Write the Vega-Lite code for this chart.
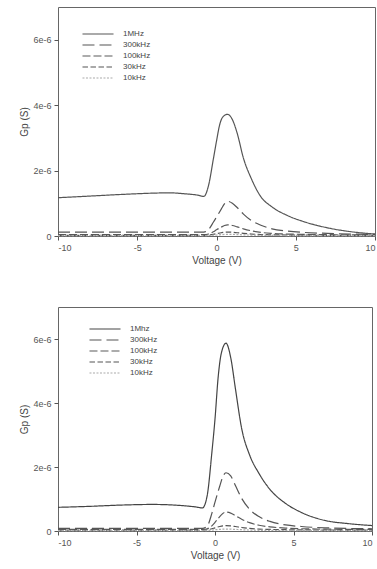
{
 "$schema": "https://vega.github.io/schema/vega-lite/v6.json",
 "background": "white",
 "padding": {"left": 19, "top": 6, "right": 0, "bottom": 0},
 "spacing": 40,
 "config": {
  "font": "Liberation Sans",
  "view": {"stroke": "#666", "strokeWidth": 1},
  "axis": {"grid": false, "domain": false, "tickColor": "#555", "tickSize": 4, "labelFontSize": 9, "labelColor": "#555", "titleFontSize": 10, "titleFontWeight": "normal", "titleColor": "#444", "labelPadding": 3, "titlePadding": 3},
  "legend": {"orient": "none", "title": null, "symbolType": "M-3,0H3", "symbolSize": 107, "symbolStrokeWidth": 1.2, "labelFontSize": 8, "labelColor": "#444444", "rowPadding": 1, "labelOffset": 19}
 },
 "resolve": {"scale": {"color": "independent", "strokeDash": "independent"}, "legend": {"color": "independent", "strokeDash": "independent"}},
 "datasets": {
  "d": [
   {"p":"a","s":"1MHz","v":-10,"g":1.17},{"p":"a","s":"1MHz","v":-8,"g":1.22},{"p":"a","s":"1MHz","v":-6,"g":1.27},{"p":"a","s":"1MHz","v":-4,"g":1.31},{"p":"a","s":"1MHz","v":-3,"g":1.32},{"p":"a","s":"1MHz","v":-2,"g":1.29},{"p":"a","s":"1MHz","v":-1.2,"g":1.25},{"p":"a","s":"1MHz","v":-0.8,"g":1.21},{"p":"a","s":"1MHz","v":-0.5,"g":1.55},{"p":"a","s":"1MHz","v":-0.2,"g":2.35},{"p":"a","s":"1MHz","v":0,"g":2.9},{"p":"a","s":"1MHz","v":0.2,"g":3.4},{"p":"a","s":"1MHz","v":0.4,"g":3.64},{"p":"a","s":"1MHz","v":0.7,"g":3.72},{"p":"a","s":"1MHz","v":1.0,"g":3.56},{"p":"a","s":"1MHz","v":1.3,"g":3.15},{"p":"a","s":"1MHz","v":1.7,"g":2.38},{"p":"a","s":"1MHz","v":2.2,"g":1.75},{"p":"a","s":"1MHz","v":2.8,"g":1.2},{"p":"a","s":"1MHz","v":3.5,"g":0.89},{"p":"a","s":"1MHz","v":4.5,"g":0.62},{"p":"a","s":"1MHz","v":5.5,"g":0.44},{"p":"a","s":"1MHz","v":7,"g":0.25},{"p":"a","s":"1MHz","v":8.5,"g":0.13},{"p":"a","s":"1MHz","v":10,"g":0.06},
   {"p":"a","s":"300kHz","v":-10,"g":0.12},{"p":"a","s":"300kHz","v":-5,"g":0.12},{"p":"a","s":"300kHz","v":-0.8,"g":0.12},{"p":"a","s":"300kHz","v":-0.5,"g":0.2},{"p":"a","s":"300kHz","v":-0.2,"g":0.42},{"p":"a","s":"300kHz","v":0,"g":0.58},{"p":"a","s":"300kHz","v":0.3,"g":0.82},{"p":"a","s":"300kHz","v":0.5,"g":0.98},{"p":"a","s":"300kHz","v":0.7,"g":1.06},{"p":"a","s":"300kHz","v":1.0,"g":1.0},{"p":"a","s":"300kHz","v":1.3,"g":0.87},{"p":"a","s":"300kHz","v":1.7,"g":0.67},{"p":"a","s":"300kHz","v":2.2,"g":0.47},{"p":"a","s":"300kHz","v":2.8,"g":0.33},{"p":"a","s":"300kHz","v":3.5,"g":0.22},{"p":"a","s":"300kHz","v":4.5,"g":0.15},{"p":"a","s":"300kHz","v":5.5,"g":0.11},{"p":"a","s":"300kHz","v":7,"g":0.08},{"p":"a","s":"300kHz","v":8.5,"g":0.06},{"p":"a","s":"300kHz","v":10,"g":0.05},
   {"p":"a","s":"100kHz","v":-10,"g":0.04},{"p":"a","s":"100kHz","v":-5,"g":0.04},{"p":"a","s":"100kHz","v":-0.8,"g":0.04},{"p":"a","s":"100kHz","v":-0.5,"g":0.06},{"p":"a","s":"100kHz","v":-0.2,"g":0.13},{"p":"a","s":"100kHz","v":0,"g":0.19},{"p":"a","s":"100kHz","v":0.3,"g":0.27},{"p":"a","s":"100kHz","v":0.5,"g":0.32},{"p":"a","s":"100kHz","v":0.7,"g":0.34},{"p":"a","s":"100kHz","v":1.0,"g":0.32},{"p":"a","s":"100kHz","v":1.3,"g":0.28},{"p":"a","s":"100kHz","v":1.7,"g":0.22},{"p":"a","s":"100kHz","v":2.2,"g":0.16},{"p":"a","s":"100kHz","v":2.8,"g":0.11},{"p":"a","s":"100kHz","v":3.5,"g":0.08},{"p":"a","s":"100kHz","v":4.5,"g":0.06},{"p":"a","s":"100kHz","v":5.5,"g":0.05},{"p":"a","s":"100kHz","v":7,"g":0.04},{"p":"a","s":"100kHz","v":8.5,"g":0.035},{"p":"a","s":"100kHz","v":10,"g":0.03},
   {"p":"a","s":"30kHz","v":-10,"g":0.02},{"p":"a","s":"30kHz","v":-5,"g":0.02},{"p":"a","s":"30kHz","v":-0.8,"g":0.02},{"p":"a","s":"30kHz","v":-0.5,"g":0.03},{"p":"a","s":"30kHz","v":-0.2,"g":0.05},{"p":"a","s":"30kHz","v":0,"g":0.07},{"p":"a","s":"30kHz","v":0.3,"g":0.1},{"p":"a","s":"30kHz","v":0.5,"g":0.115},{"p":"a","s":"30kHz","v":0.7,"g":0.12},{"p":"a","s":"30kHz","v":1.0,"g":0.115},{"p":"a","s":"30kHz","v":1.3,"g":0.1},{"p":"a","s":"30kHz","v":1.7,"g":0.08},{"p":"a","s":"30kHz","v":2.2,"g":0.06},{"p":"a","s":"30kHz","v":2.8,"g":0.045},{"p":"a","s":"30kHz","v":3.5,"g":0.035},{"p":"a","s":"30kHz","v":4.5,"g":0.03},{"p":"a","s":"30kHz","v":5.5,"g":0.025},{"p":"a","s":"30kHz","v":7,"g":0.02},{"p":"a","s":"30kHz","v":8.5,"g":0.02},{"p":"a","s":"30kHz","v":10,"g":0.02},
   {"p":"a","s":"10kHz","v":-10,"g":0.01},{"p":"a","s":"10kHz","v":-5,"g":0.01},{"p":"a","s":"10kHz","v":-0.8,"g":0.01},{"p":"a","s":"10kHz","v":-0.5,"g":0.015},{"p":"a","s":"10kHz","v":-0.2,"g":0.025},{"p":"a","s":"10kHz","v":0,"g":0.03},{"p":"a","s":"10kHz","v":0.3,"g":0.04},{"p":"a","s":"10kHz","v":0.5,"g":0.048},{"p":"a","s":"10kHz","v":0.7,"g":0.05},{"p":"a","s":"10kHz","v":1.0,"g":0.048},{"p":"a","s":"10kHz","v":1.3,"g":0.043},{"p":"a","s":"10kHz","v":1.7,"g":0.035},{"p":"a","s":"10kHz","v":2.2,"g":0.028},{"p":"a","s":"10kHz","v":2.8,"g":0.02},{"p":"a","s":"10kHz","v":3.5,"g":0.017},{"p":"a","s":"10kHz","v":4.5,"g":0.014},{"p":"a","s":"10kHz","v":5.5,"g":0.012},{"p":"a","s":"10kHz","v":7,"g":0.01},{"p":"a","s":"10kHz","v":8.5,"g":0.01},{"p":"a","s":"10kHz","v":10,"g":0.01},
   {"p":"b","s":"1Mhz","v":-10,"g":0.74},{"p":"b","s":"1Mhz","v":-8,"g":0.77},{"p":"b","s":"1Mhz","v":-6,"g":0.81},{"p":"b","s":"1Mhz","v":-4,"g":0.83},{"p":"b","s":"1Mhz","v":-3,"g":0.82},{"p":"b","s":"1Mhz","v":-2,"g":0.79},{"p":"b","s":"1Mhz","v":-1.2,"g":0.75},{"p":"b","s":"1Mhz","v":-0.8,"g":0.72},{"p":"b","s":"1Mhz","v":-0.5,"g":1.1},{"p":"b","s":"1Mhz","v":-0.2,"g":2.45},{"p":"b","s":"1Mhz","v":0,"g":3.5},{"p":"b","s":"1Mhz","v":0.2,"g":4.8},{"p":"b","s":"1Mhz","v":0.4,"g":5.55},{"p":"b","s":"1Mhz","v":0.7,"g":5.87},{"p":"b","s":"1Mhz","v":1.0,"g":5.42},{"p":"b","s":"1Mhz","v":1.3,"g":4.45},{"p":"b","s":"1Mhz","v":1.7,"g":3.2},{"p":"b","s":"1Mhz","v":2.2,"g":2.38},{"p":"b","s":"1Mhz","v":2.8,"g":1.8},{"p":"b","s":"1Mhz","v":3.5,"g":1.3},{"p":"b","s":"1Mhz","v":4.5,"g":0.86},{"p":"b","s":"1Mhz","v":5.5,"g":0.58},{"p":"b","s":"1Mhz","v":7,"g":0.33},{"p":"b","s":"1Mhz","v":8.5,"g":0.23},{"p":"b","s":"1Mhz","v":10,"g":0.17},
   {"p":"b","s":"300kHz","v":-10,"g":0.08},{"p":"b","s":"300kHz","v":-5,"g":0.08},{"p":"b","s":"300kHz","v":-0.8,"g":0.08},{"p":"b","s":"300kHz","v":-0.5,"g":0.15},{"p":"b","s":"300kHz","v":-0.2,"g":0.55},{"p":"b","s":"300kHz","v":0,"g":0.9},{"p":"b","s":"300kHz","v":0.3,"g":1.4},{"p":"b","s":"300kHz","v":0.5,"g":1.7},{"p":"b","s":"300kHz","v":0.7,"g":1.82},{"p":"b","s":"300kHz","v":1.0,"g":1.72},{"p":"b","s":"300kHz","v":1.3,"g":1.42},{"p":"b","s":"300kHz","v":1.7,"g":1.02},{"p":"b","s":"300kHz","v":2.2,"g":0.68},{"p":"b","s":"300kHz","v":2.8,"g":0.45},{"p":"b","s":"300kHz","v":3.5,"g":0.3},{"p":"b","s":"300kHz","v":4.5,"g":0.19},{"p":"b","s":"300kHz","v":5.5,"g":0.14},{"p":"b","s":"300kHz","v":7,"g":0.1},{"p":"b","s":"300kHz","v":8.5,"g":0.08},{"p":"b","s":"300kHz","v":10,"g":0.07},
   {"p":"b","s":"100kHz","v":-10,"g":0.05},{"p":"b","s":"100kHz","v":-5,"g":0.05},{"p":"b","s":"100kHz","v":-0.8,"g":0.05},{"p":"b","s":"100kHz","v":-0.5,"g":0.07},{"p":"b","s":"100kHz","v":-0.2,"g":0.16},{"p":"b","s":"100kHz","v":0,"g":0.27},{"p":"b","s":"100kHz","v":0.3,"g":0.45},{"p":"b","s":"100kHz","v":0.5,"g":0.55},{"p":"b","s":"100kHz","v":0.7,"g":0.59},{"p":"b","s":"100kHz","v":1.0,"g":0.56},{"p":"b","s":"100kHz","v":1.3,"g":0.48},{"p":"b","s":"100kHz","v":1.7,"g":0.37},{"p":"b","s":"100kHz","v":2.2,"g":0.26},{"p":"b","s":"100kHz","v":2.8,"g":0.18},{"p":"b","s":"100kHz","v":3.5,"g":0.13},{"p":"b","s":"100kHz","v":4.5,"g":0.09},{"p":"b","s":"100kHz","v":5.5,"g":0.07},{"p":"b","s":"100kHz","v":7,"g":0.06},{"p":"b","s":"100kHz","v":8.5,"g":0.05},{"p":"b","s":"100kHz","v":10,"g":0.05},
   {"p":"b","s":"30kHz","v":-10,"g":0.03},{"p":"b","s":"30kHz","v":-5,"g":0.03},{"p":"b","s":"30kHz","v":-0.8,"g":0.03},{"p":"b","s":"30kHz","v":-0.5,"g":0.04},{"p":"b","s":"30kHz","v":-0.2,"g":0.07},{"p":"b","s":"30kHz","v":0,"g":0.1},{"p":"b","s":"30kHz","v":0.3,"g":0.14},{"p":"b","s":"30kHz","v":0.5,"g":0.16},{"p":"b","s":"30kHz","v":0.7,"g":0.17},{"p":"b","s":"30kHz","v":1.0,"g":0.16},{"p":"b","s":"30kHz","v":1.3,"g":0.14},{"p":"b","s":"30kHz","v":1.7,"g":0.11},{"p":"b","s":"30kHz","v":2.2,"g":0.08},{"p":"b","s":"30kHz","v":2.8,"g":0.06},{"p":"b","s":"30kHz","v":3.5,"g":0.05},{"p":"b","s":"30kHz","v":4.5,"g":0.04},{"p":"b","s":"30kHz","v":5.5,"g":0.035},{"p":"b","s":"30kHz","v":7,"g":0.03},{"p":"b","s":"30kHz","v":8.5,"g":0.03},{"p":"b","s":"30kHz","v":10,"g":0.03},
   {"p":"b","s":"10kHz","v":-10,"g":0.01},{"p":"b","s":"10kHz","v":-5,"g":0.01},{"p":"b","s":"10kHz","v":-0.8,"g":0.01},{"p":"b","s":"10kHz","v":-0.5,"g":0.015},{"p":"b","s":"10kHz","v":-0.2,"g":0.03},{"p":"b","s":"10kHz","v":0,"g":0.04},{"p":"b","s":"10kHz","v":0.3,"g":0.05},{"p":"b","s":"10kHz","v":0.5,"g":0.058},{"p":"b","s":"10kHz","v":0.7,"g":0.06},{"p":"b","s":"10kHz","v":1.0,"g":0.058},{"p":"b","s":"10kHz","v":1.3,"g":0.05},{"p":"b","s":"10kHz","v":1.7,"g":0.04},{"p":"b","s":"10kHz","v":2.2,"g":0.03},{"p":"b","s":"10kHz","v":2.8,"g":0.022},{"p":"b","s":"10kHz","v":3.5,"g":0.018},{"p":"b","s":"10kHz","v":4.5,"g":0.015},{"p":"b","s":"10kHz","v":5.5,"g":0.013},{"p":"b","s":"10kHz","v":7,"g":0.012},{"p":"b","s":"10kHz","v":8.5,"g":0.011},{"p":"b","s":"10kHz","v":10,"g":0.01}
  ]
 },
 "vconcat": [
  {
   "width": 317, "height": 229,
   "data": {"name": "d"},
   "transform": [{"filter": "datum.p == 'a'"}],
   "mark": {"type": "line", "strokeWidth": 1.2, "interpolate": "monotone"},
   "encoding": {
    "x": {"field": "v", "type": "quantitative", "scale": {"domain": [-10, 10], "nice": false}, "axis": {"values": [-10, -5, 0, 5, 10], "labelExpr": "'' + datum.value", "title": "Voltage (V)"}},
    "y": {"field": "g", "type": "quantitative", "scale": {"domain": [0, 7], "nice": false}, "axis": {"values": [0, 2, 4, 6], "labelExpr": "datum.value == 0 ? '0' : datum.value + 'e-6'", "title": "Gp (S)"}},
    "strokeDash": {"field": "s", "type": "nominal", "scale": {"domain": ["1MHz", "300kHz", "100kHz", "30kHz", "10kHz"], "range": [[1, 0], [12, 5], [8, 3], [5.5, 2.5], [2, 1.5]]}, "legend": {"legendX": 34, "legendY": 21}},
    "color": {"field": "s", "type": "nominal", "scale": {"domain": ["1MHz", "300kHz", "100kHz", "30kHz", "10kHz"], "range": ["#555555", "#555555", "#5a5a5a", "#555555", "#aaaaaa"]}, "legend": {"legendX": 34, "legendY": 21}}
   }
  },
  {
   "width": 314, "height": 224,
   "data": {"name": "d"},
   "transform": [{"filter": "datum.p == 'b'"}],
   "mark": {"type": "line", "strokeWidth": 1.2, "interpolate": "monotone"},
   "encoding": {
    "x": {"field": "v", "type": "quantitative", "scale": {"domain": [-10, 10], "nice": false}, "axis": {"values": [-10, -5, 0, 5, 10], "labelExpr": "'' + datum.value", "title": "Voltage (V)"}},
    "y": {"field": "g", "type": "quantitative", "scale": {"domain": [0, 7], "nice": false}, "axis": {"values": [0, 2, 4, 6], "labelExpr": "datum.value == 0 ? '0' : datum.value + 'e-6'", "title": "Gp (S)"}},
    "strokeDash": {"field": "s", "type": "nominal", "scale": {"domain": ["1Mhz", "300kHz", "100kHz", "30kHz", "10kHz"], "range": [[1, 0], [12, 5], [8, 3], [5.5, 2.5], [2, 1.5]]}, "legend": {"legendX": 41, "legendY": 16}},
    "color": {"field": "s", "type": "nominal", "scale": {"domain": ["1Mhz", "300kHz", "100kHz", "30kHz", "10kHz"], "range": ["#444444", "#555555", "#5a5a5a", "#555555", "#aaaaaa"]}, "legend": {"legendX": 41, "legendY": 16}}
   }
  }
 ]
}
